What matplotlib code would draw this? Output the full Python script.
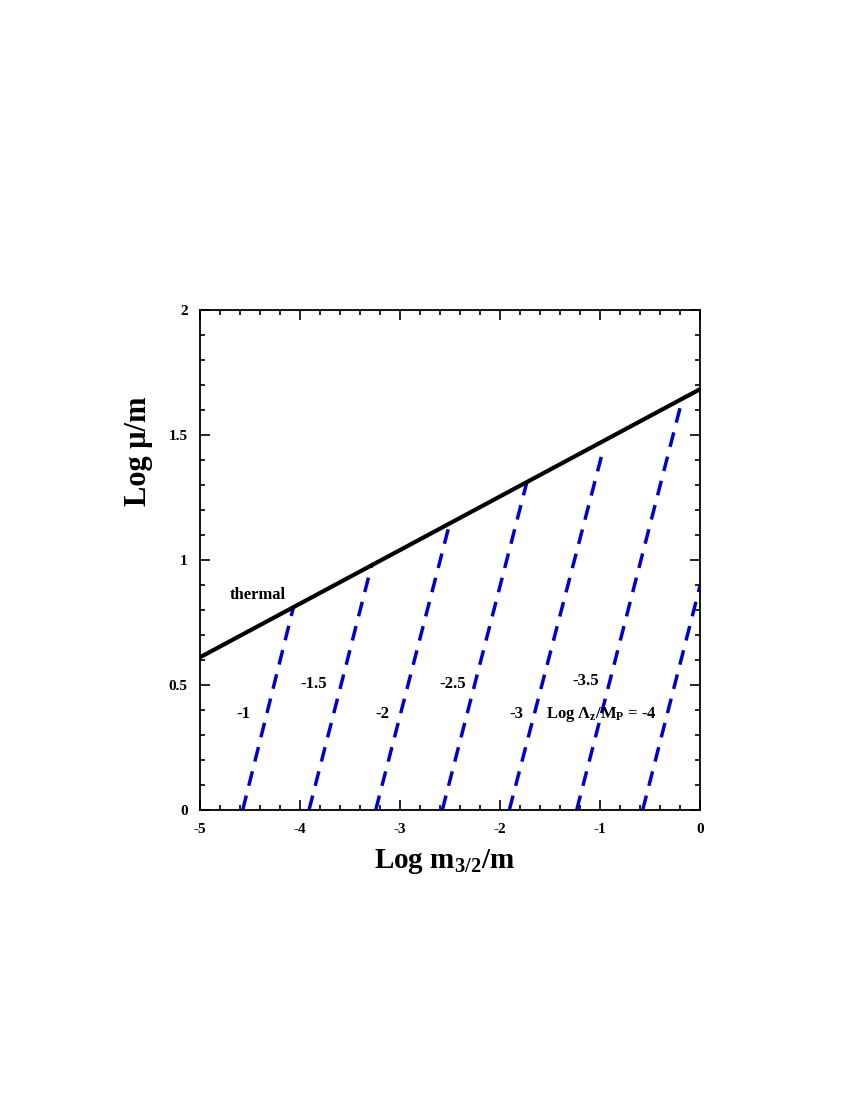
import matplotlib
matplotlib.use('Agg')
import matplotlib.pyplot as plt
from matplotlib.ticker import MultipleLocator

plt.rcParams['font.family'] = ['Liberation Serif', 'DejaVu Serif']
plt.rcParams['font.weight'] = 'bold'
plt.rcParams['axes.unicode_minus'] = False
plt.rcParams['mathtext.fontset'] = 'custom'
plt.rcParams['mathtext.rm'] = 'Liberation Serif:bold'
plt.rcParams['mathtext.it'] = 'Liberation Serif:bold'
plt.rcParams['mathtext.bf'] = 'Liberation Serif:bold'

# Граница "thermal"
thermal_x = [-5.0, 0.0]
thermal_y = [0.611, 1.683]

# Штриховые линии для Log Lambda_z/M_P
lam_labels = ['-1', '-1.5', '-2', '-2.5', '-3', '-3.5', '-4']
lam_x0 = [-4.573, -3.91, -3.243, -2.577, -1.907, -1.233, -0.573]
lam_x1 = [-4.067, -3.283, -2.50, -1.733, -0.977, -0.20, 0.0]
lam_y1 = [0.809, 0.98, 1.151, 1.309, 1.427, 1.607, 0.896]

# Подписи
label_text = ['thermal', '-1', '-1.5', '-2', '-2.5', '-3', '-3.5',
              r'Log $\Lambda_z$/M$_\mathrm{P}$ = -4']
label_x = [-4.417, -4.567, -3.86, -3.177, -2.473, -1.84, -1.14, -0.983]
label_y = [0.86, 0.384, 0.504, 0.384, 0.504, 0.384, 0.517, 0.384]

xticks = [-5, -4, -3, -2, -1, 0]
yticks = [0, 0.5, 1, 1.5, 2]

fig = plt.figure(figsize=(8.5, 11), dpi=100)
ax = fig.add_axes([0.2353, 0.2636, 0.5882, 0.4546])

for x0, x1, y1 in zip(lam_x0, lam_x1, lam_y1):
    ax.plot([x0, x1], [0, y1], color='#0000cc', lw=2.5, dashes=(4.3, 2.9),
            solid_capstyle='butt', dash_capstyle='butt')

ax.plot(thermal_x, thermal_y, color='black', lw=3)

for t, x, y in zip(label_text, label_x, label_y):
    ax.text(x, y, t, ha='center', va='center', fontsize=12, fontweight='bold')

ax.set_xlim(-5, 0)
ax.set_ylim(0, 2)
ax.set_xticks(xticks)
ax.set_xticklabels([str(v) for v in xticks])
ax.set_yticks(yticks)
ax.set_yticklabels(['0', '0.5', '1', '1.5', '2'])
ax.xaxis.set_minor_locator(MultipleLocator(0.2))
ax.yaxis.set_minor_locator(MultipleLocator(0.1))
ax.tick_params(which='both', direction='in', top=True, right=True, width=1.2,
               labelsize=11)
ax.tick_params(which='major', length=7, pad=9)
ax.tick_params(which='minor', length=3.5)
for s in ax.spines.values():
    s.set_linewidth(1.3)

ax.set_xlabel(r'Log m$_{3/2}$/m', fontsize=21, fontweight='bold')
ax.set_ylabel(r'Log μ/m', fontsize=22, fontweight='bold')
ax.xaxis.set_label_coords(0.488, -0.074)
ax.yaxis.set_label_coords(-0.095, 0.718)

fig.savefig('out.png', dpi=100)
